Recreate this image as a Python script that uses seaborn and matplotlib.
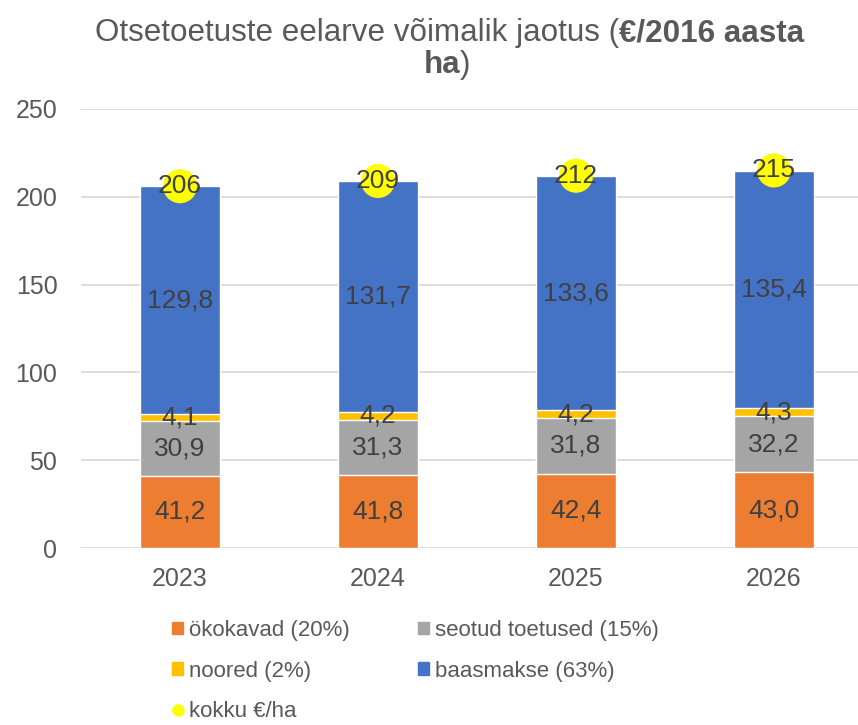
import numpy as np
import pandas as pd
import seaborn as sns
import matplotlib.pyplot as plt
from matplotlib.lines import Line2D
from matplotlib.patches import Patch

# data
years = ["2023", "2024", "2025", "2026"]
okokavad = [41.2, 41.8, 42.4, 43.0]
seotud = [30.9, 31.3, 31.8, 32.2]
noored = [4.1, 4.2, 4.2, 4.3]
baasmakse = [129.8, 131.7, 133.6, 135.4]
kokku = [206, 209, 212, 215]

series = [
    ("ökokavad (20%)", okokavad, "#ED7D31"),
    ("seotud toetused (15%)", seotud, "#A5A5A5"),
    ("noored (2%)", noored, "#FFC000"),
    ("baasmakse (63%)", baasmakse, "#4472C4"),
]

sns.set_style("white")
plt.rcParams["font.family"] = ["Liberation Sans", "DejaVu Sans"]
txt = "#595959"
W, H = 858, 725

fig = plt.figure(figsize=(W / 100, H / 100), dpi=100)
ax = fig.add_axes([81 / W, 1 - 548 / H, 792 / W, 439 / H])

# stacked bars: draw cumulative totals from top to bottom
df = pd.DataFrame({name: vals for name, vals, _ in series}, index=years)
cum = df.cumsum(axis=1)
for name, _, color in reversed(series):
    sns.barplot(x=years, y=cum[name].values, color=color, width=0.404,
                saturation=1, ax=ax, zorder=2)

# segment labels
for name, vals, _ in series:
    bottoms = cum[name].values - np.array(vals)
    for i, v in enumerate(vals):
        ax.text(i, bottoms[i] + v / 2, f"{v:.1f}".replace(".", ","),
                ha="center", va="center", fontsize=19, color="#404040", zorder=4)

# totals
sns.scatterplot(x=np.arange(len(years)), y=kokku, s=34 ** 2 * 0.52, color="#FFFF00",
                edgecolor="none", ax=ax, zorder=3, legend=False)
for i, v in enumerate(kokku):
    ax.text(i, v, str(v), ha="center", va="center", fontsize=19,
            color="#404040", zorder=5)

ax.set_ylim(0, 250)
ax.set_xlim(-0.5, 3.5)
ax.set_yticks(range(0, 251, 50))
ax.yaxis.grid(True, color="#D9D9D9", lw=1.3, zorder=0)
ax.set_axisbelow(True)
for s in ax.spines.values():
    s.set_visible(False)
ax.tick_params(axis="y", length=0, pad=17, labelsize=18, labelcolor=txt)
ax.tick_params(axis="x", length=0, pad=14, labelsize=18, labelcolor=txt)
ax.set_xlabel("")
ax.set_ylabel("")

# title (partly bold), laid out piece by piece
renderer = fig.canvas.get_renderer()
tsize = 22.6
t1 = fig.text(95 / W, 1 - 33 / H, "Otsetoetuste eelarve võimalik jaotus (",
              ha="left", va="center", fontsize=tsize, color=txt)
x_end = t1.get_window_extent(renderer).x1 / W
fig.text(x_end, 1 - 33 / H, "€/2016 aasta", ha="left", va="center",
         fontsize=tsize, color=txt, fontweight="bold")
t3 = fig.text(0, 1 - 65 / H, "ha", ha="left", va="center", fontsize=tsize,
              color=txt, fontweight="bold")
t4 = fig.text(0, 1 - 65 / H, ")", ha="left", va="center", fontsize=tsize, color=txt)
w3 = t3.get_window_extent(renderer).width
w4 = t4.get_window_extent(renderer).width
x0 = 447 - (w3 + w4) / 2
t3.set_x(x0 / W)
t4.set_x((x0 + w3) / W)

# legend, row-wise order
h = {name: Patch(color=c) for name, _, c in series}
dot = Line2D([], [], marker="o", color="none", markerfacecolor="#FFFF00",
             markeredgecolor="none", markersize=9)
handles = [h["ökokavad (20%)"], h["noored (2%)"], dot,
           h["seotud toetused (15%)"], h["baasmakse (63%)"]]
labels = ["ökokavad (20%)", "noored (2%)", "kokku €/ha",
          "seotud toetused (15%)", "baasmakse (63%)"]
leg = fig.legend(handles, labels, ncol=2, loc="upper left",
                 bbox_to_anchor=(172 / W, 1 - 620 / H), frameon=False,
                 fontsize=16, handlelength=0.5, handleheight=0.5,
                 handletextpad=0.25, columnspacing=3.1, labelspacing=0.88,
                 borderpad=0, borderaxespad=0)
for t in leg.get_texts():
    t.set_color(txt)

fig.savefig("out.png", dpi=100)
